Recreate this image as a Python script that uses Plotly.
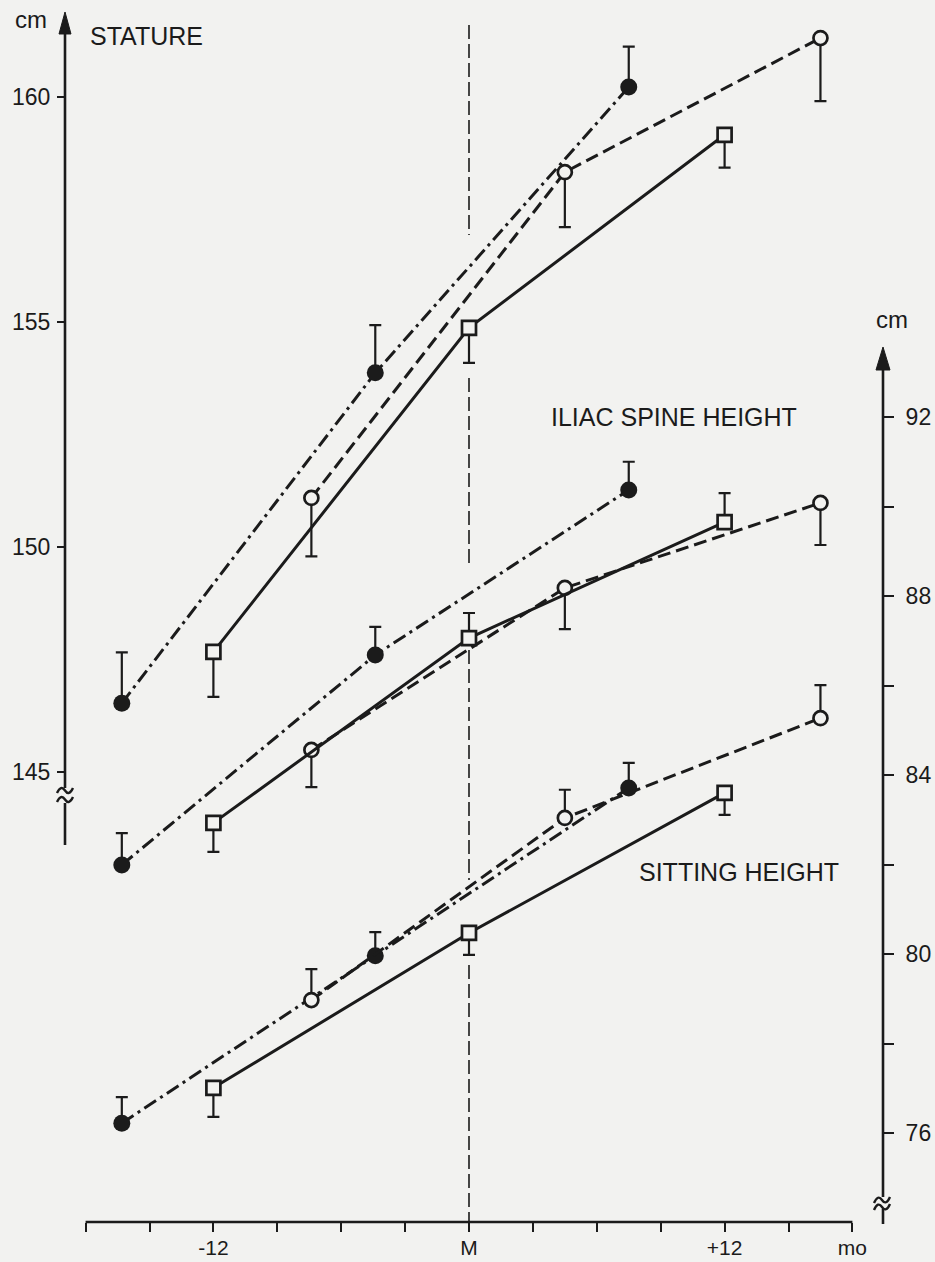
import plotly.graph_objects as go

# ---------------- data (months relative to menarche M = 0) ----------------
months_filled = [-16.3, -4.4, 7.5]
months_open = [-7.4, 4.5, 16.5]
months_square = [-12, 0, 12]

# Stature, cm (left axis)
stature_filled = [146.53, 153.87, 160.22]
stature_filled_err_up = [1.13, 1.06, 0.90]
stature_filled_err_down = [0, 0, 0]
stature_open = [151.09, 158.33, 161.31]
stature_open_err_up = [0, 0, 0]
stature_open_err_down = [1.30, 1.22, 1.40]
stature_square = [147.67, 154.87, 159.16]
stature_square_err_up = [0, 0, 0]
stature_square_err_down = [1.00, 0.78, 0.73]

# Iliac spine height, cm (right axis)
iliac_filled = [81.99, 86.68, 90.37]
iliac_filled_err_up = [0.71, 0.63, 0.63]
iliac_filled_err_down = [0, 0, 0]
iliac_open = [84.56, 88.18, 90.08]
iliac_open_err_up = [0, 0, 0]
iliac_open_err_down = [0.83, 0.92, 0.94]
iliac_square = [82.93, 87.06, 89.65]
iliac_square_err_up = [0, 0.56, 0.65]
iliac_square_err_down = [0.65, 0, 0]

# Sitting height, cm (right axis)
sitting_filled = [76.22, 79.96, 83.71]
sitting_filled_err_up = [0.58, 0.53, 0.56]
sitting_filled_err_down = [0, 0, 0]
sitting_open = [78.97, 83.04, 85.27]
sitting_open_err_up = [0.69, 0.63, 0.74]
sitting_open_err_down = [0, 0, 0]
sitting_square = [77.01, 80.47, 83.60]
sitting_square_err_up = [0, 0, 0]
sitting_square_err_down = [0.65, 0.49, 0.49]

x_tickvals = [-18, -15, -12, -9, -6, -3, 0, 3, 6, 9, 12, 15, 18]
x_ticktext = ["", "", "-12", "", "", "", "M", "", "", "", "+12", "", "mo"]
left_tickvals = [145, 150, 155, 160]
right_tickvals = [76, 78, 80, 82, 84, 86, 88, 90, 92]
right_ticktext = ["76", "", "80", "", "84", "", "88", "", "92"]

# ---------------- styling ----------------
INK = "#1b1b1b"
BG = "#f2f2f0"
FONT = "Liberation Sans, Arial, sans-serif"

W, H = 935, 1262
PL, PR, PT, PB = 65, 883, 10, 1222   # plot area in pixels


def fx(p):
    return (p - PL) / (PR - PL)


def fy(p):
    return (PB - p) / (PB - PT)


fig = go.Figure()

styles = {
    "filled": dict(dash="14px,5px,3px,5px",
                   marker=dict(symbol="circle", size=17, color=INK, line=dict(width=0))),
    "open": dict(dash="13px,6px",
                 marker=dict(symbol="circle", size=14, color=BG, line=dict(color=INK, width=2.7))),
    "square": dict(dash="solid",
                   marker=dict(symbol="square", size=14, color=BG, line=dict(color=INK, width=2.7))),
}

series = [
    ("filled", months_filled, stature_filled, stature_filled_err_up, stature_filled_err_down, "y"),
    ("open", months_open, stature_open, stature_open_err_up, stature_open_err_down, "y"),
    ("square", months_square, stature_square, stature_square_err_up, stature_square_err_down, "y"),
    ("filled", months_filled, iliac_filled, iliac_filled_err_up, iliac_filled_err_down, "y2"),
    ("open", months_open, iliac_open, iliac_open_err_up, iliac_open_err_down, "y2"),
    ("square", months_square, iliac_square, iliac_square_err_up, iliac_square_err_down, "y2"),
    ("filled", months_filled, sitting_filled, sitting_filled_err_up, sitting_filled_err_down, "y2"),
    ("open", months_open, sitting_open, sitting_open_err_up, sitting_open_err_down, "y2"),
    ("square", months_square, sitting_square, sitting_square_err_up, sitting_square_err_down, "y2"),
]

for kind, xs, ys, up, down, yax in series:
    st = styles[kind]
    fig.add_trace(go.Scatter(
        x=xs, y=ys, yaxis=yax, mode="lines+markers",
        line=dict(color=INK, width=3, dash=st["dash"]),
        marker=st["marker"],
        error_y=dict(type="data", symmetric=False, array=up, arrayminus=down,
                     color=INK, thickness=2.2, width=6),
        cliponaxis=False, showlegend=False, hoverinfo="skip",
    ))

shapes = []


def seg(x0, y0, x1, y1, width=2.6, dash="solid", layer="above"):
    shapes.append(dict(type="line", xref="paper", yref="paper",
                       x0=fx(x0), y0=fy(y0), x1=fx(x1), y1=fy(y1),
                       line=dict(color=INK, width=width, dash=dash), layer=layer))


def path(points, fill=None, width=2.4, closed=False):
    d = "M " + " L ".join(f"{fx(a):.5f},{fy(b):.5f}" for a, b in points)
    if closed:
        d += " Z"
    shapes.append(dict(type="path", xref="paper", yref="paper", path=d,
                       fillcolor=fill if fill else "rgba(0,0,0,0)",
                       line=dict(color=INK, width=width), layer="above"))


def wave(xa, ya, xb, yb):
    mx, my = (xa + xb) / 2, (ya + yb) / 2
    d = (f"M {fx(xa):.5f},{fy(ya):.5f} Q {fx((xa + mx) / 2):.5f},{fy(my - 6):.5f} "
         f"{fx(mx):.5f},{fy(my):.5f} Q {fx((mx + xb) / 2):.5f},{fy(my + 6):.5f} "
         f"{fx(xb):.5f},{fy(yb):.5f}")
    shapes.append(dict(type="path", xref="paper", yref="paper", path=d,
                       line=dict(color=INK, width=2.4), layer="above"))


# x axis line (from -18 to +18 months)
seg(469 - 18 * 21.3, PB, 469 + 18 * 21.3, PB)

# left axis with arrow and break
seg(PL, 32, PL, 788)
seg(PL, 803, PL, 845)
path([(PL - 6, 34), (PL, 12), (PL + 6, 34)], fill=INK, width=1, closed=True)
wave(57, 793, 73, 788)
wave(57, 802, 73, 797)

# right axis with arrow and break
seg(PR, 368, PR, 1197)
seg(PR, 1209, PR, 1224)
path([(PR - 7, 370), (PR, 347), (PR + 7, 370)], fill=INK, width=1, closed=True)
wave(874, 1203, 890, 1197)
wave(874, 1210, 890, 1204)

# vertical dashed menarche line
for a, b in [(25, 235), (378, 563), (650, 880), (965, PB)]:
    seg(469, a, 469, b, width=1.6, dash="14px,5px", layer="below")

annotations = []


def label(text, x, y, size=25, anchor="left"):
    annotations.append(dict(text=text, x=fx(x), y=fy(y), xref="paper", yref="paper",
                            xanchor=anchor, yanchor="middle", showarrow=False,
                            font=dict(family=FONT, size=size, color=INK)))


label("STATURE", 88, 36.5)
label("ILIAC SPINE HEIGHT", 549, 417)
label("SITTING HEIGHT", 637, 872)
label("cm", 31, 19, size=24, anchor="center")
label("cm", 892, 319, size=24, anchor="center")

fig.update_layout(
    width=W, height=H,
    margin=dict(l=PL, r=W - PR, t=PT, b=H - PB, pad=0, autoexpand=False),
    paper_bgcolor=BG, plot_bgcolor=BG,
    font=dict(family=FONT, color=INK),
    shapes=shapes, annotations=annotations,
    xaxis=dict(range=[(PL - 469) / 21.3, (PR - 469) / 21.3],
               tickvals=x_tickvals, ticktext=x_ticktext,
               ticks="outside", ticklen=9, tickwidth=2, tickcolor=INK,
               showline=False, showgrid=False, zeroline=False,
               tickfont=dict(size=21, family=FONT, color=INK),
               ticklabelstandoff=-2, automargin=False, fixedrange=True),
    yaxis=dict(range=[160 - (PB - 97) / 45.0, 160 + (97 - PT) / 45.0],
               tickvals=left_tickvals,
               ticks="outside", ticklen=7, tickwidth=2, tickcolor=INK,
               showline=False, showgrid=False, zeroline=False,
               tickfont=dict(size=23, family=FONT, color=INK),
               ticklabelstandoff=2, automargin=False, fixedrange=True),
    yaxis2=dict(overlaying="y", side="right", anchor="x",
                range=[92 - (PB - 417) / 44.75, 92 + (417 - PT) / 44.75],
                tickvals=right_tickvals, ticktext=right_ticktext,
                ticks="outside", ticklen=10, tickwidth=2, tickcolor=INK,
                showline=False, showgrid=False, zeroline=False,
                tickfont=dict(size=23, family=FONT, color=INK),
                ticklabelstandoff=7, automargin=False, fixedrange=True),
)

fig.write_html("out.html")
